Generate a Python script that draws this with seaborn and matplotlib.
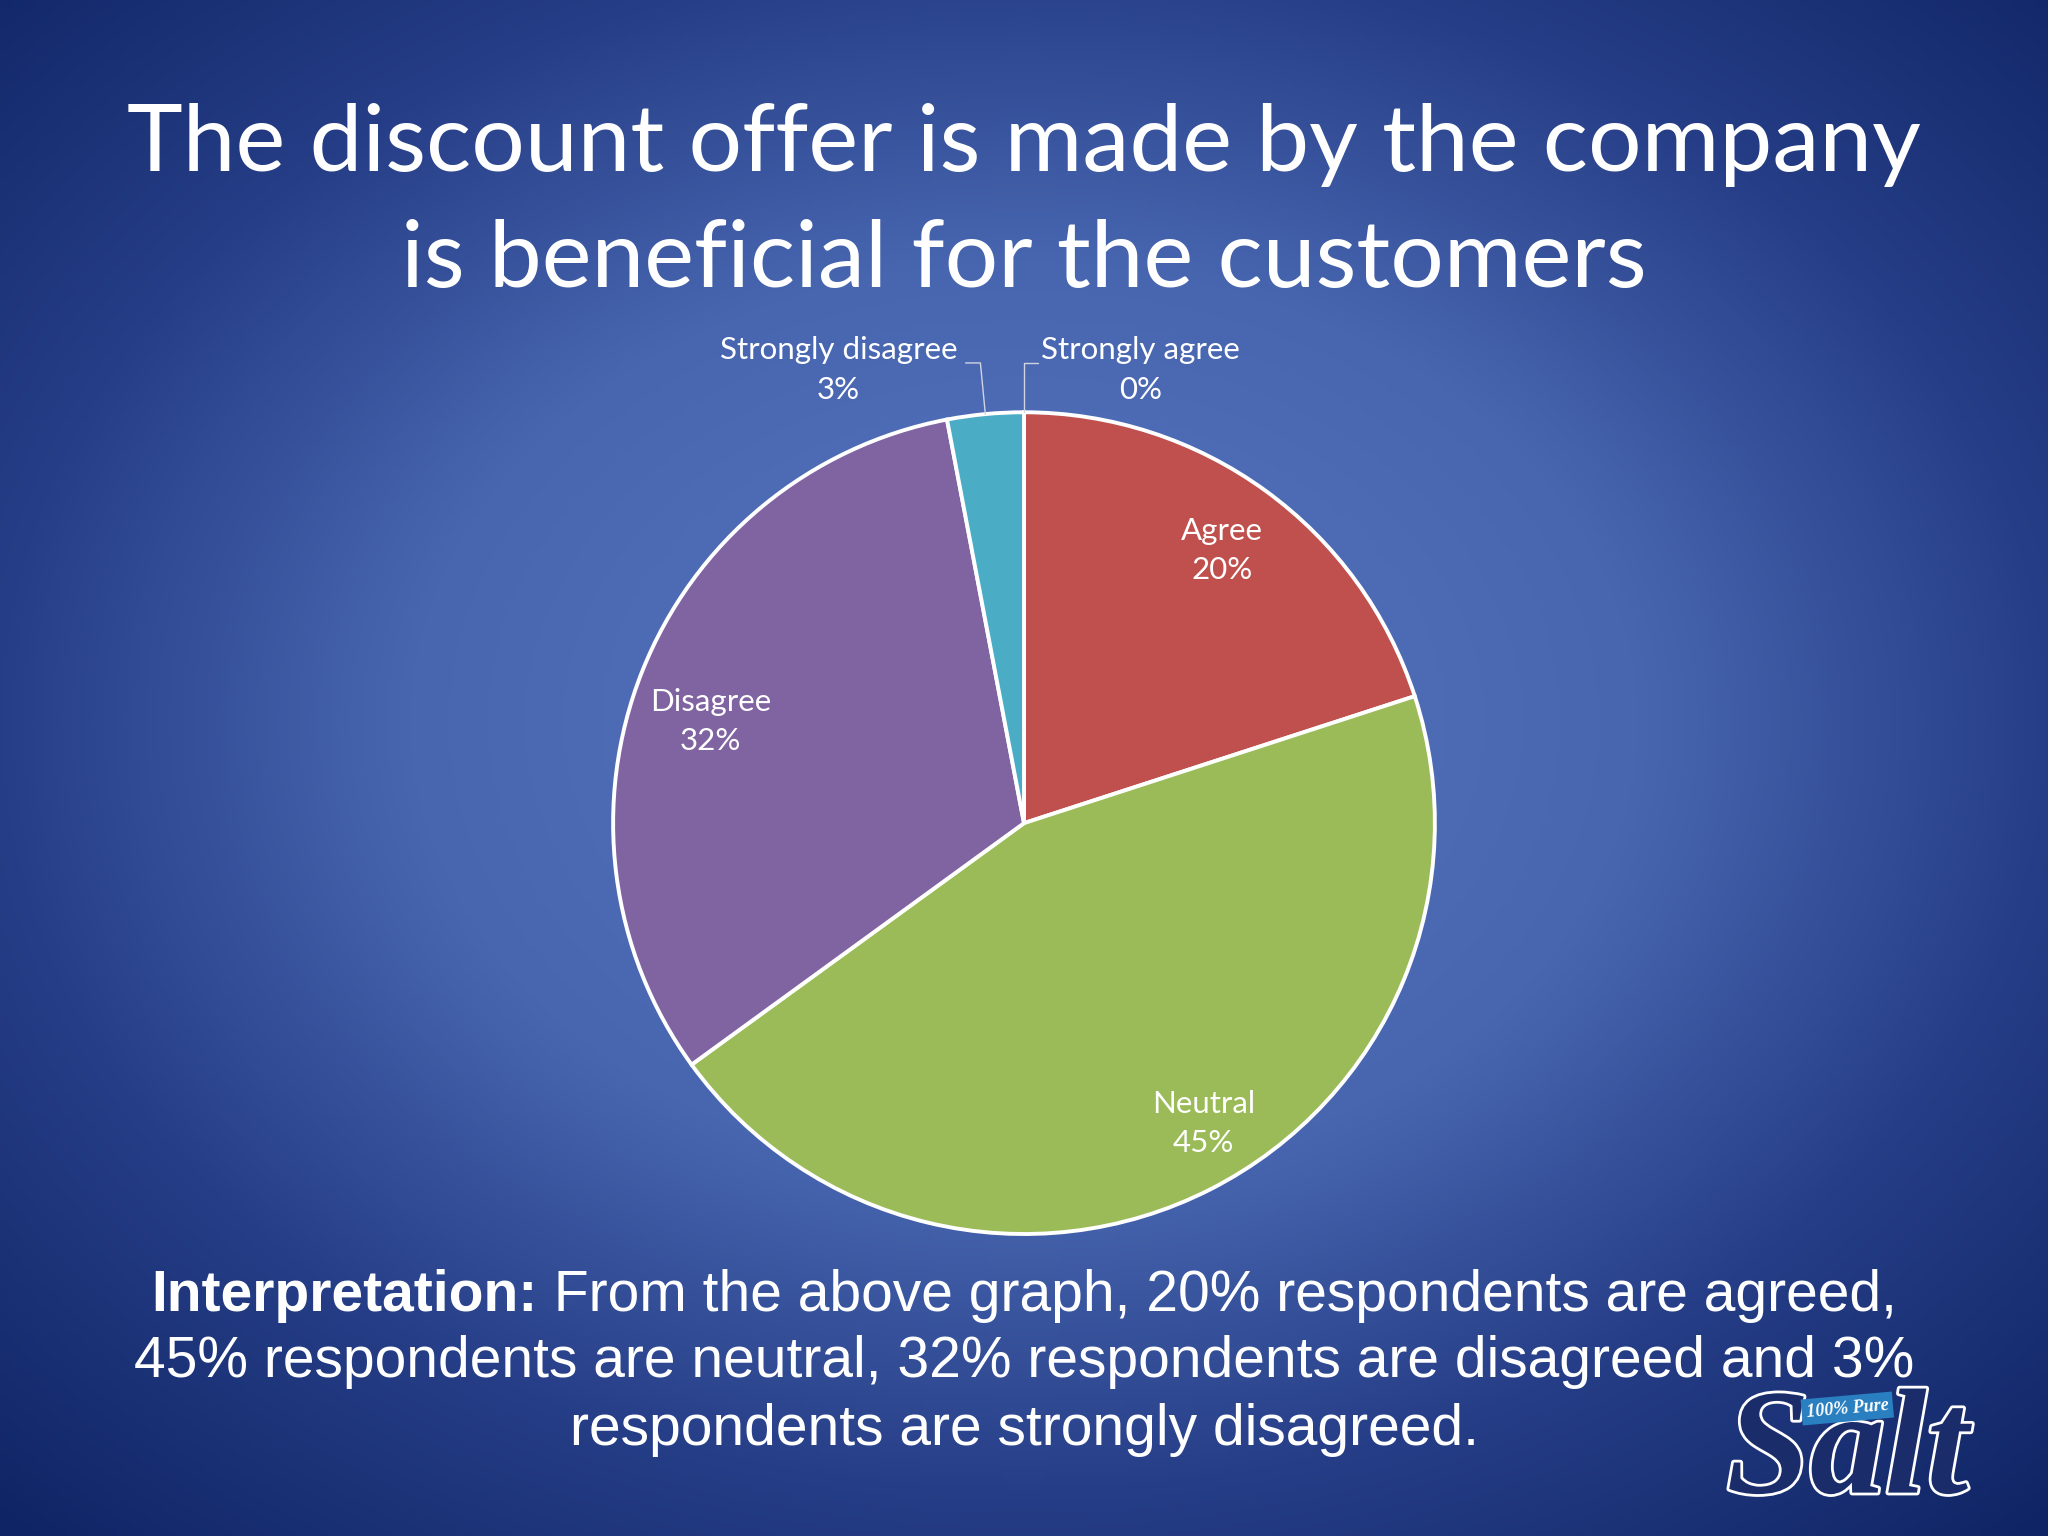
import matplotlib
matplotlib.use('Agg')
import matplotlib.pyplot as plt
import matplotlib.patheffects as pe
from matplotlib.offsetbox import TextArea, HPacker, AnnotationBbox
import seaborn as sns
import numpy as np

# survey answers, clockwise from 12 o'clock
responses = ['Strongly agree', 'Agree', 'Neutral', 'Disagree', 'Strongly disagree']
shares = [0, 20, 45, 32, 3]
slice_colors = ['#4F81BD', '#C0504D', '#9BBB59', '#8064A2', '#4BACC6']

title = 'The discount offer is made by the company\nis beneficial for the customers'
interp_bold = 'Interpretation:'
interp_lines = [' From the above graph, 20% respondents are agreed,',
                '45% respondents are neutral, 32% respondents are disagreed and 3%',
                'respondents are strongly disagreed.']

sns.set_theme(style='white')
plt.rcParams['font.family'] = ['Lato', 'DejaVu Sans']

fig = plt.figure(figsize=(20.48, 15.36), dpi=100)

# slide background: radial blue gradient
bg = fig.add_axes([0, 0, 1, 1])
yy, xx = np.mgrid[0:1:400j, 0:1:534j]
d = np.sqrt(((xx - 0.5) / 0.5) ** 2 + ((yy - 0.47) / 0.5) ** 2)
stops = [0, 0.6, 1.0, 1.45]
rgb = np.array([[88, 118, 192], [72, 102, 176], [38, 62, 135], [14, 36, 100]]) / 255
img = np.stack([np.interp(d, stops, rgb[:, i]) for i in range(3)], axis=-1)
bg.imshow(img, extent=[0, 1, 0, 1], aspect='auto', origin='upper')
bg.axis('off')

# pie
ax = fig.add_axes([0.2993, 0.1966, 0.4014, 0.535])
wedges, _ = ax.pie(shares, colors=slice_colors, startangle=90, counterclock=False,
                   radius=1, wedgeprops=dict(edgecolor='white', linewidth=2.8))
ax.set_xlim(-1, 1)
ax.set_ylim(-1, 1)
ax.set_aspect('equal')
ax.axis('off')

# small hand nudges so the inside labels sit where the slide had them
nudge = {'Neutral': (0.065, 0.0), 'Disagree': (0.0, -0.054)}
lbl_kw = dict(color='white', fontsize=22.5, ha='center', va='center', linespacing=1.5,
              multialignment='center')
for name, val, w in zip(responses, shares, wedges):
    ang = np.deg2rad((w.theta1 + w.theta2) / 2)
    x, y = np.cos(ang), np.sin(ang)
    text = f'{name}\n{val}%'
    if val >= 10:
        dx, dy = nudge.get(name, (0, 0))
        ax.text(0.82 * x + dx, 0.82 * y + dy, text, **lbl_kw)
    else:
        # small slices get an outside label with an elbow leader line
        left = x < -0.01
        ex = x - 0.012 if left else x
        hx = ex - 0.036 if left else ex + 0.034
        ax.plot([x, ex, hx], [y, 1.12, 1.12], color='#D0D4E0', lw=1.0, clip_on=False)
        kw = dict(lbl_kw, ha='right' if left else 'left')
        ax.text(hx - 0.02 if left else hx + 0.008, 1.103, text, **kw)

fig.text(0.5, 0.868, title, ha='center', va='center', fontsize=68, color='white',
         linespacing=1.47)

# interpretation paragraph (Arial-like)
body = dict(color='white', fontsize=41, family='Liberation Sans')
first = HPacker(children=[TextArea(interp_bold, textprops=dict(body, fontweight='bold')),
                          TextArea(interp_lines[0], textprops=body)],
                align='baseline', pad=0, sep=0)
fig.add_artist(AnnotationBbox(first, (0.5, 0.156), xycoords='figure fraction',
                              box_alignment=(0.5, 0.5), frameon=False))
for yy_, line in zip([0.113, 0.069], interp_lines[1:]):
    fig.text(0.5, yy_, line, ha='center', va='center', **body)

# rough "Salt" logo in the corner
fig.text(0.902, 0.052, 'Salt', ha='center', va='center', family='Liberation Serif',
         style='italic', fontweight='bold', fontsize=108, color='#1B2C6A',
         path_effects=[pe.withStroke(linewidth=4, foreground='white')])
fig.text(0.902, 0.083, '100% Pure', ha='center', va='center', family='Liberation Serif',
         style='italic', fontweight='bold', fontsize=13, color='white', rotation=5,
         bbox=dict(boxstyle='square,pad=0.25', fc='#2A7FC0', ec='none'))

fig.savefig('out.png', dpi=100)
